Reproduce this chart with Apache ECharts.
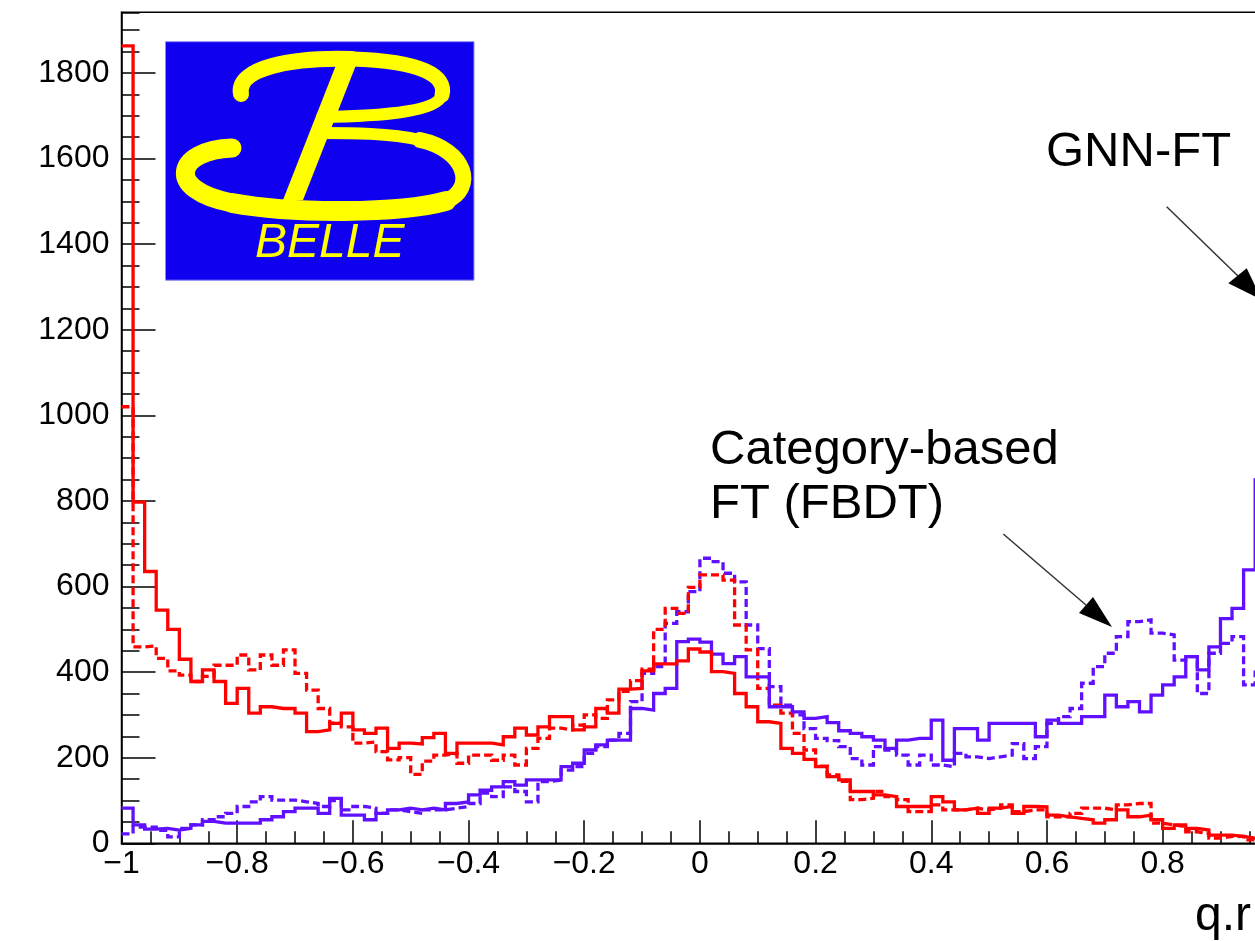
<!DOCTYPE html>
<html><head><meta charset="utf-8">
<script src="https://cdn.jsdelivr.net/npm/echarts@6/dist/echarts.min.js"></script>
<style>html,body{margin:0;padding:0;background:#fff}#c{width:1255px;height:941px}</style>
</head><body><div id="c"></div>
<script>
// histogram binning: 100 bins of width 0.02 on [-1, 1]
const binLow = -1, binWidth = 0.02, nBins = 100;

// solid red
const redSolid = [1863,797,635,545,500,430,378,405,378,327,362,304,319,315,315,304,261,265,280,304,
 265,257,269,222,234,232,247,257,210,234,234,234,230,249,269,253,272,296,296,265,
 272,315,304,360,362,403,419,419,426,454,447,401,397,350,319,284,280,222,210,196,
 179,156,148,121,121,113,109,86,86,86,109,97,78,82,70,82,86,70,86,85,
 66,62,58,55,47,55,78,62,66,55,35,43,35,31,19,19,16,12,10,8];
// dashed red
const redDashed = [1020,459,461,432,403,393,378,390,416,416,440,405,440,416,452,397,358,315,281,272,
 234,237,214,195,200,161,192,206,210,187,206,206,194,206,183,222,245,269,265,276,
 300,292,335,355,380,407,500,549,537,598,627,627,615,510,452,362,323,304,257,218,
 180,160,145,102,105,121,109,102,74,74,90,78,78,82,78,82,90,74,78,78,
 62,62,70,82,82,78,90,93,93,47,43,39,27,23,12,16,16,8,8,6];
// solid blue
const blueSolid = [82,43,33,35,31,35,43,51,47,47,47,47,55,62,74,82,82,70,105,66,
 66,55,70,78,82,78,82,78,93,97,113,124,132,144,136,148,148,148,179,187,
 218,230,241,241,315,311,350,362,471,477,470,442,420,436,389,389,319,319,307,292,
 296,282,263,257,249,241,222,241,245,245,288,194,268,268,241,280,280,280,280,249,
 288,280,280,296,296,346,319,331,307,346,370,389,436,405,459,525,549,639,849,1300];
// dashed blue
const blueDashed = [22,38,38,30,15,35,43,55,62,70,86,97,109,101,101,97,93,86,100,78,
 86,82,70,78,74,70,78,78,82,86,93,117,109,132,121,97,144,148,171,179,
 210,226,241,257,331,397,413,514,541,588,666,658,631,611,510,455,366,323,300,268,
 245,240,226,198,183,226,218,206,183,206,183,179,210,202,198,202,206,233,198,226,
 280,296,315,374,413,444,483,518,522,491,487,428,436,350,444,467,483,370,400,400];

const yTicks = {min: 0, max: 1941.6, step: 200, minorStep: 50};
const xTicks = {min: -1, max: 1, step: 0.2};

function steps(vals) {
  const pts = vals.map((v, i) => [+(binLow + i * binWidth).toFixed(2), v]);
  pts.push([+(binLow + vals.length * binWidth).toFixed(2), vals[vals.length - 1]]);
  return pts;
}

const RED = '#ff0000', BLUE = '#6010ff';
const FONT = '"Liberation Sans", Arial, Helvetica, sans-serif';

function histSeries(name, vals, color, dashed) {
  return {
    name, type: 'line', step: 'end', data: steps(vals), showSymbol: false, symbol: 'none',
    xAxisIndex: 0, yAxisIndex: 0,
    clip: true, silent: true, animation: false,
    lineStyle: {color, width: 3.3, type: dashed ? [8, 4] : 'solid', cap: 'butt', join: 'miter'}
  };
}

const Y = '#ffff00';
function bez(p, w) {
  return {type: 'bezierCurve', shape: {x1: p[0], y1: p[1], cpx1: p[2], cpy1: p[3], cpx2: p[4], cpy2: p[5], x2: p[6], y2: p[7]},
          style: {fill: null, stroke: Y, lineWidth: w, lineCap: 'round'}, z: 101};
}

const chart = echarts.init(document.getElementById('c'), null, {renderer: 'canvas'});
chart.setOption({
  backgroundColor: '#ffffff',
  animation: false,
  grid: {left: 121.5, top: 12.3, right: -23.3, bottom: 97.7, show: true, borderColor: '#000', borderWidth: 1.5,
         backgroundColor: 'transparent', containLabel: false, outerBoundsMode: 'none'},
  xAxis: {
    type: 'value', min: xTicks.min, max: xTicks.max, interval: xTicks.step,
    axisLine: {show: true, onZero: false, lineStyle: {color: '#000', width: 1.5}},
    axisTick: {show: true, inside: true, length: 23, lineStyle: {color: '#000', width: 1.5}},
    minorTick: {show: true, splitNumber: 4, length: 12, lineStyle: {color: '#000', width: 1.5}},
    splitLine: {show: false},
    axisLabel: {color: '#000', fontSize: 32, fontFamily: FONT, margin: 5,
      formatter: v => (Math.abs(v) < 1e-9 ? '0' : String(+v.toFixed(1)).replace('-', '\u2212'))}
  },
  yAxis: [{
    type: 'value', position: 'left', min: yTicks.min, max: yTicks.max, interval: yTicks.step,
    axisLine: {show: true, onZero: false, lineStyle: {color: '#000', width: 1.5}},
    axisTick: {show: true, inside: true, length: 34, lineStyle: {color: '#000', width: 1.5}},
    minorTick: {show: false},
    splitLine: {show: false},
    axisLabel: {color: '#000', fontSize: 32, fontFamily: FONT, margin: 12, showMaxLabel: false,
      formatter: v => String(Math.round(v))}
  }, {
    // minor ticks every 50
    type: 'value', position: 'left', offset: 0, min: yTicks.min, max: yTicks.max, interval: yTicks.minorStep,
    axisLine: {show: false, onZero: false},
    axisTick: {show: true, inside: true, length: 18, lineStyle: {color: '#000', width: 1.5}},
    axisLabel: {show: false},
    splitLine: {show: false}
  }],
  series: [
    histSeries('blueDashed', blueDashed, BLUE, true),
    histSeries('redDashed', redDashed, RED, true),
    histSeries('blueSolid', blueSolid, BLUE, false),
    histSeries('redSolid', redSolid, RED, false)
  ],
  graphic: [
    // Belle logo
    {type: 'rect', shape: {x: 165.5, y: 41.7, width: 308.5, height: 238.5}, style: {fill: '#1000f0', stroke: '#8c8cf0', lineWidth: 1}, z: 100},
    bez([241, 94, 236, 68, 292, 57, 352, 59], 16),
    bez([352, 59, 422, 61, 447, 76, 442, 95], 15),
    bez([442, 95, 437, 112, 380, 116, 322, 117], 12),
    bez([232, 148, 176, 150, 164, 190, 232, 203], 19),
    bez([232, 203, 292, 214, 400, 214, 446, 201], 20),
    bez([446, 201, 476, 189, 467, 150, 420, 140], 16),
    bez([420, 140, 390, 133, 350, 133, 322, 133], 12),
    {type: 'polygon', shape: {points: [[338, 60], [358, 60], [303, 200], [283, 200]]}, style: {fill: Y}, z: 101},
    {type: 'text', x: 255, y: 244, style: {text: 'BELLE', fill: Y, font: 'italic 48px ' + FONT, textVerticalAlign: 'middle'}, z: 101},
    // annotations
    {type: 'text', x: 1046, y: 152, style: {text: 'GNN-FT', fill: '#000', font: '49px ' + FONT, textVerticalAlign: 'middle'}, z: 100},
    {type: 'text', x: 710, y: 450, style: {text: 'Category-based', fill: '#000', font: '49px ' + FONT, textVerticalAlign: 'middle'}, z: 100},
    {type: 'text', x: 710, y: 504, style: {text: 'FT (FBDT)', fill: '#000', font: '49px ' + FONT, textVerticalAlign: 'middle'}, z: 100},
    {type: 'line', shape: {x1: 1166.7, y1: 206.7, x2: 1238, y2: 276}, style: {stroke: '#333', lineWidth: 1.5}, z: 100},
    {type: 'polygon', shape: {points: [[1228.3, 283.3], [1246.7, 268.3], [1262, 300]]}, style: {fill: '#000'}, z: 100},
    {type: 'line', shape: {x1: 1003.3, y1: 534, x2: 1086, y2: 605}, style: {stroke: '#333', lineWidth: 1.5}, z: 100},
    {type: 'polygon', shape: {points: [[1079, 613], [1093, 597], [1112, 627]]}, style: {fill: '#000'}, z: 100},
    // axis title
    {type: 'text', x: 1195, y: 917, style: {text: 'q.r', fill: '#000', font: '48px ' + FONT, textVerticalAlign: 'middle'}, z: 100}
  ]
});
</script>
</body></html>
